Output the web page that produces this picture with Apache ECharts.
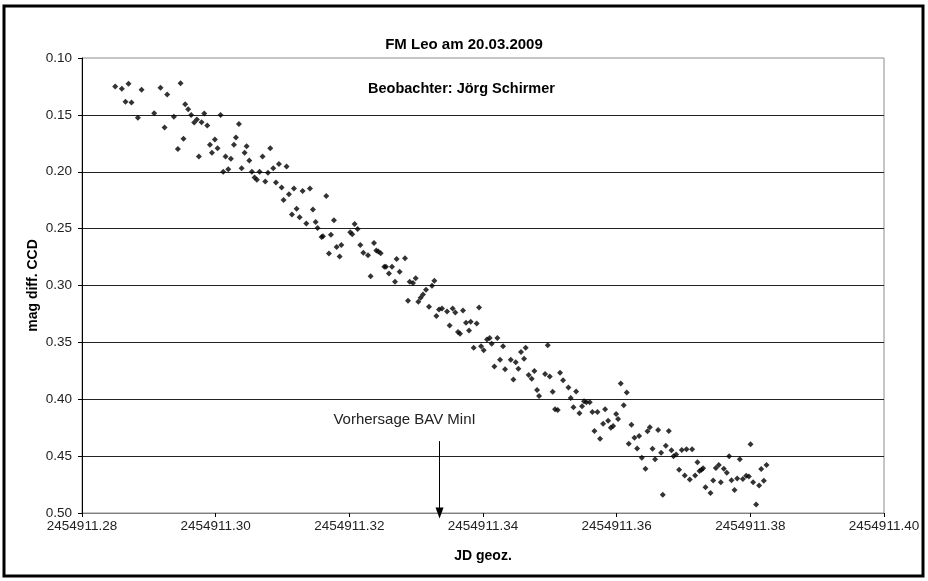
<!DOCTYPE html>
<html>
<head>
<meta charset="utf-8">
<script src="https://cdn.jsdelivr.net/npm/echarts@6/dist/echarts.min.js"></script>
<style>
html,body{margin:0;padding:0;background:#fff;}
#chart{width:928px;height:581px;}
</style>
</head>
<body>
<div id="chart"></div>
<script>
// ---- data ----
var titleText = 'FM Leo am 20.03.2009';
var observerText = 'Beobachter: Jörg Schirmer';
var xAxisName = 'JD geoz.';
var yAxisName = 'mag diff. CCD';
var xTicks = [2454911.28, 2454911.30, 2454911.32, 2454911.34, 2454911.36, 2454911.38, 2454911.40];
var yTicks = [0.10, 0.15, 0.20, 0.25, 0.30, 0.35, 0.40, 0.45, 0.50];
var predictionLabel = 'Vorhersage BAV MinI';
var predictionJD = 2454911.3335;
var predictionArrow = [0.4368, 0.50];

var jd = [
2454911.28497,2454911.28596,2454911.28696,2454911.28651,2454911.28741,2454911.28891,2454911.28836,2454911.29080,2454911.29175,2454911.29275,
2454911.29475,2454911.29375,2454911.29235,2454911.29544,2454911.29589,2454911.29634,2454911.29829,2454911.29719,2454911.29679,2454911.29789,
2454911.29874,2454911.29519,2454911.29435,2454911.29749,2454911.30073,
2454911.29914,2454911.29944,2454911.29988,2454911.30028,2454911.30148,2454911.30228,2454911.30113,2454911.30188,2454911.30273,2454911.30303,
2454911.30348,2454911.30433,2454911.30463,2454911.30503,2454911.30388,2454911.30542,2454911.30582,2454911.30617,2454911.30657,2454911.30742,
2454911.30782,2454911.30702,2454911.30817,2454911.30862,2454911.30947,2454911.31061,2454911.30902,2454911.30987,2454911.31016,2454911.31096,
2454911.31171,2454911.31141,2454911.31211,2454911.31256,2454911.31301,2454911.31411,2454911.31655,2454911.31455,
2454911.31356,2454911.31496,2454911.31770,2454911.32079,2454911.31525,2454911.32014,2454911.32044,2454911.32124,2454911.31585,2454911.31605,
2454911.31725,2454911.31695,2454911.31810,2454911.31880,2454911.31855,2454911.32164,2454911.32209,2454911.32279,2454911.32369,2454911.32404,
2454911.32434,2454911.32469,2454911.32708,2454911.32833,2454911.32523,2454911.32548,2454911.32638,2454911.32593,2454911.32753,2454911.32319,
2454911.32683,2454911.32903,2454911.32953,2454911.32993,2454911.32878,2454911.33032,
2454911.33067,2454911.33102,2454911.33147,2454911.33237,2454911.33272,2454911.33192,2454911.33302,2454911.33342,2454911.33387,2454911.33462,
2454911.33546,2454911.33586,2454911.33701,2454911.33941,2454911.33501,2454911.33626,2454911.33656,2454911.33746,2454911.33816,2454911.33906,
2454911.33791,2454911.33861,2454911.33971,2454911.34010,2454911.34060,2454911.34100,2454911.34130,2454911.34215,2454911.34300,2454911.34255,
2454911.34170,2454911.34330,2454911.34415,2454911.34490,2454911.34529,2454911.34569,2454911.34614,2454911.34639,2454911.34455,2454911.34684,
2454911.34729,2454911.34769,2454911.34809,2454911.34839,2454911.34929,2454911.34969,
2454911.34999,2454911.35043,2454911.35153,2454911.35198,2454911.35278,2454911.35313,2454911.35393,2454911.35078,2454911.35118,2454911.35353,
2454911.35443,2454911.35482,2454911.35512,2454911.35547,2454911.35597,2454911.35637,2454911.35712,2454911.35667,2454911.35752,2454911.35827,
2454911.35797,2454911.35872,2454911.35912,2454911.35947,2454911.35992,2454911.36021,2454911.36061,2454911.36151,2454911.36106,2454911.36221,
2454911.36181,2454911.36266,2454911.36336,2454911.36306,2454911.36376,2454911.36461,2454911.36431,
2454911.36496,2454911.36620,2454911.36780,2454911.36536,2454911.36575,2454911.36665,2454911.36735,2454911.36820,2454911.36850,2454911.36890,
2454911.36975,2454911.37045,2454911.37129,2454911.37209,2454911.36935,2454911.37019,2454911.37094,2454911.37174,2454911.37239,2454911.37269,
2454911.37294,2454911.37484,2454911.37528,2454911.37603,2454911.37648,2454911.37683,2454911.37843,2454911.37444,2454911.37558,2454911.37718,
2454911.37803,2454911.37888,2454911.37938,2454911.37978,2454911.38003,2454911.38042,2454911.38132,2454911.38162,2454911.38202,2454911.38242,
2454911.37329,2454911.37404,2454911.37763,2454911.36690,2454911.38087
];
var mag = [
0.1250,0.1270,0.1227,0.1384,0.1392,0.1279,0.1526,0.1485,0.1262,0.1320,
0.1221,0.1517,0.1610,0.1407,0.1451,0.1500,0.1488,0.1541,0.1567,0.1564,
0.1593,0.1709,0.1799,0.1866,0.1500,
0.1763,0.1834,0.1716,0.1793,0.1867,0.1885,0.2000,0.1979,0.1763,0.1698,
0.1580,0.1834,0.1775,0.1902,0.1970,0.2000,0.2050,0.2071,0.2000,0.2086,
0.2009,0.1867,0.1793,0.1970,0.1932,0.1953,0.2095,0.2139,0.2249,0.2198,
0.2148,0.2376,0.2325,0.2399,0.2169,0.2148,0.2213,0.2331,
0.2456,0.2442,0.2427,0.2459,0.2494,0.2532,0.2550,0.2503,0.2573,0.2567,
0.2553,0.2719,0.2661,0.2643,0.2746,0.2643,0.2711,0.2734,0.2626,0.2693,
0.2702,0.2716,0.2766,0.2760,0.2836,0.2836,0.2836,0.2895,0.2880,0.2918,
0.2968,0.2968,0.2977,0.2936,0.3135,0.3143,
0.3108,0.3079,0.3038,0.3003,0.2959,0.3187,0.3269,0.3211,0.3202,0.3228,
0.3202,0.3237,0.3219,0.3193,0.3351,0.3409,0.3424,0.3327,0.3319,0.3333,
0.3395,0.3547,0.3535,0.3570,0.3474,0.3462,0.3512,0.3462,0.3535,0.3652,
0.3713,0.3737,0.3652,0.3675,0.3731,0.3585,0.3643,0.3547,0.3827,0.3787,
0.3819,0.3751,0.3918,0.3971,0.3778,0.3526,
0.3800,0.3935,0.3768,0.3832,0.3897,0.3988,0.3932,0.4088,0.4094,0.4071,
0.4124,0.4062,0.4018,0.4026,0.4026,0.4112,0.4112,0.4279,0.4347,0.4088,
0.4215,0.4188,0.4250,0.4235,0.4129,0.4174,0.3862,0.3941,0.4053,0.4224,
0.4391,0.4338,0.4324,0.4432,0.4515,0.4282,0.4612,
0.4247,0.4271,0.4280,0.4435,0.4527,0.4470,0.4408,0.4449,0.4500,0.4485,
0.4446,0.4440,0.4440,0.4554,0.4619,0.4670,0.4705,0.4670,0.4631,0.4619,
0.4607,0.4604,0.4577,0.4610,0.4646,0.4500,0.4527,0.4714,0.4729,0.4711,
0.4696,0.4702,0.4673,0.4679,0.4396,0.4729,0.4759,0.4613,0.4717,0.4577,
0.4774,0.4824,0.4798,0.4839,0.4926
];

// ---- chart ----
var points = jd.map(function (x, i) { return [x, mag[i]]; });
var font = "'Liberation Sans', Arial, sans-serif";
var chart = echarts.init(document.getElementById('chart'), null, {renderer: 'canvas'});
var frame = {
  type: 'rect',
  shape: {x: 4, y: 6, width: 919, height: 570},
  style: {fill: 'none', stroke: '#000', lineWidth: 3},
  silent: true
};

chart.setOption({
  animation: false,
  backgroundColor: '#ffffff',
  title: [{
    text: titleText,
    left: 'center',
    top: 32,
    textStyle: {fontFamily: font, fontSize: 15, fontWeight: 'bold', color: '#000'}
  }, {
    text: observerText,
    left: 363,
    top: 76,
    textStyle: {fontFamily: font, fontSize: 14.5, fontWeight: 'bold', color: '#000'}
  }],
  grid: {
    left: 82, top: 58, width: 802, height: 455,
    show: true, borderColor: '#8c8c8c', borderWidth: 1, backgroundColor: 'transparent'
  },
  xAxis: {
    type: 'value',
    min: xTicks[0], max: xTicks[xTicks.length - 1], interval: 0.02,
    name: xAxisName, nameLocation: 'middle', nameGap: 36,
    nameTextStyle: {fontFamily: font, fontSize: 14, fontWeight: 'bold', color: '#000'},
    axisLine: {show: true, onZero: false, lineStyle: {color: '#808080', width: 1}},
    axisTick: {show: true, inside: false, length: 4, lineStyle: {color: '#000'}},
    axisLabel: {
      margin: 6, fontFamily: font, fontSize: 13.5, color: '#222',
      formatter: function (v) { return v.toFixed(2); }
    },
    splitLine: {show: false}
  },
  yAxis: {
    type: 'value', inverse: true,
    min: yTicks[0], max: yTicks[yTicks.length - 1], interval: 0.05,
    name: yAxisName, nameLocation: 'middle', nameGap: 42, nameRotate: 90,
    nameMoveOverlap: false,
    nameTextStyle: {fontFamily: font, fontSize: 14, fontWeight: 'bold', color: '#000'},
    axisLine: {show: true, onZero: false, lineStyle: {color: '#000', width: 1}},
    axisTick: {show: true, inside: false, length: 4, lineStyle: {color: '#000'}},
    axisLabel: {
      margin: 10, fontFamily: font, fontSize: 13.5, color: '#222',
      formatter: function (v) { return v.toFixed(2); }
    },
    splitLine: {show: true, showMinLine: false, showMaxLine: false, lineStyle: {color: '#222', width: 1}}
  },
  series: [{
    type: 'scatter',
    data: points,
    symbol: 'diamond',
    symbolSize: 6,
    itemStyle: {color: '#000'},
    markLine: {
      silent: true,
      symbol: ['none', 'triangle'],
      symbolSize: [8, 11],
      lineStyle: {color: '#000', width: 1, type: 'solid'},
      label: {show: false},
      data: [[{coord: [predictionJD, predictionArrow[0]]}, {coord: [predictionJD, predictionArrow[1]]}]]
    }
  }],
  graphic: [frame]
});

var labelPos = chart.convertToPixel({gridIndex: 0}, [predictionJD, predictionArrow[0]]);
chart.setOption({
  graphic: [frame, {
    type: 'text',
    x: labelPos[0] - 35,
    y: labelPos[1] - 21,
    style: {
      text: predictionLabel, fontFamily: font, fontSize: 15, fill: '#222',
      textAlign: 'center', textVerticalAlign: 'middle'
    },
    silent: true
  }]
});
</script>
</body>
</html>
